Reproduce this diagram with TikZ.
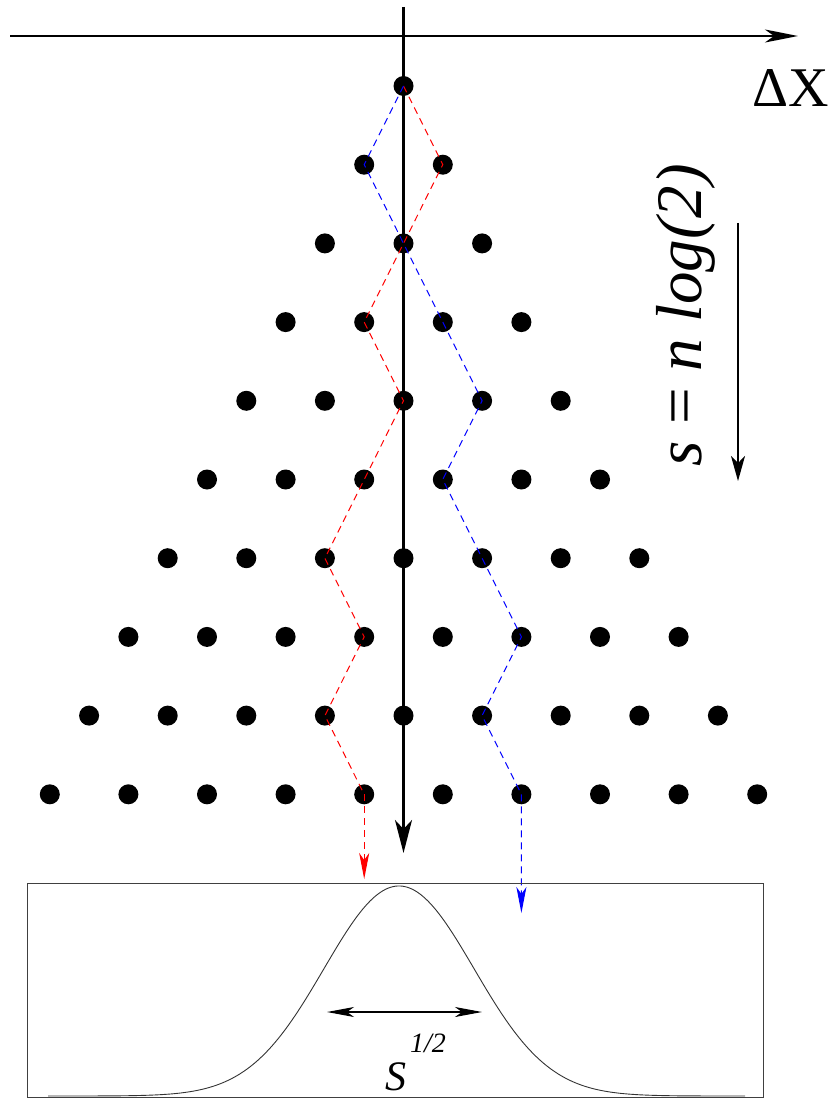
\documentclass[tikz,border=0pt]{standalone}
\usepackage{fontspec}
\setmainfont{Liberation Serif}
\newfontfamily\tnr{Liberation Serif}
\usetikzlibrary{arrows.meta}
\begin{document}
\begin{tikzpicture}[x=1pt,y=-1pt,
  dot/.style={circle,fill=black,draw=none,inner sep=0pt,minimum size=20pt},
  axisline/.style={line width=2.2pt},
  bigtip/.style={-{Stealth[length=33pt,width=17pt,inset=9pt]}},
  htip/.style={-{Stealth[length=33pt,width=13pt,inset=9pt]}},
  walk/.style={dash pattern=on 7pt off 5pt,line width=1pt},
  walktip/.style={-{Stealth[length=26pt,width=10pt,inset=7pt]}},
  thinbox/.style={draw=black!75,line width=1pt},
  curve/.style={draw=black!80,line width=0.9pt},
  lbl/.style={inner sep=0pt,anchor=center,font=\tnr}]
\useasboundingbox (0,0) rectangle (839,1099);

% axes
\coordinate (hl) at (10,36);
\coordinate (hr) at (798,36);
\coordinate (vt) at (403.5,7);
\coordinate (vb) at (403.5,853);
\draw[axisline,htip] (hl) -- (hr);
\draw[axisline,bigtip] (vt) -- (vb);

% dots
\foreach \r in {0,...,9} {
  \foreach \k in {0,...,\r} {
    \node[dot] (d\r-\k) at ({403.5+(2*\k-\r)*39.3},{86+\r*78.7}) {};
  }
}

% red walk
\coordinate (rtip) at (364.2,879);
\draw[red,walk] (d0-0.center) -- (d1-1.center) -- (d2-1.center) -- (d3-1.center)
  -- (d4-2.center) -- (d5-2.center) -- (d6-2.center) -- (d7-3.center)
  -- (d8-3.center) -- (d9-4.center);
\draw[red,walk,walktip] (d9-4.center) -- (rtip);

% blue walk
\coordinate (btip) at (521.4,913);
\draw[blue,walk] (d0-0.center) -- (d1-0.center) -- (d2-1.center) -- (d3-2.center)
  -- (d4-3.center) -- (d5-3.center) -- (d6-4.center) -- (d7-5.center)
  -- (d8-5.center) -- (d9-6.center);
\draw[blue,walk,walktip] (d9-6.center) -- (btip);

% labels
\node[lbl] (dx) at (791,88) {\fontsize{56}{60}\selectfont ΔX};
\node[lbl,rotate=90] (sn) at (686,315) {\fontsize{65}{70}\selectfont\itshape s {\upshape =} n log(2)};
\coordinate (st) at (738,223);
\coordinate (sb) at (738,481);
\draw[line width=1.6pt,-{Stealth[length=25pt,width=14pt,inset=7pt]}] (st) -- (sb);

% bottom box with gaussian
\node[thinbox,minimum width=736pt,minimum height=214pt,inner sep=0pt] (box) at (395,990) {};
\draw[curve] plot[domain=48:745,samples=300] (\x,{1096-210*exp(-0.5*((\x-399)/75)^2)});
\coordinate (wl) at (327,1012);
\coordinate (wr) at (482,1012);
\draw[line width=1.1pt,{Stealth[length=27pt,width=10pt,inset=7pt]}-{Stealth[length=27pt,width=10pt,inset=7pt]}] (wl) -- (wr);
\node[lbl] (s) at (396,1077) {\fontsize{42}{46}\selectfont\itshape S};
\node[lbl] (half) at (428,1043) {\fontsize{28}{32}\selectfont\itshape 1/2};
\end{tikzpicture}
\end{document}
